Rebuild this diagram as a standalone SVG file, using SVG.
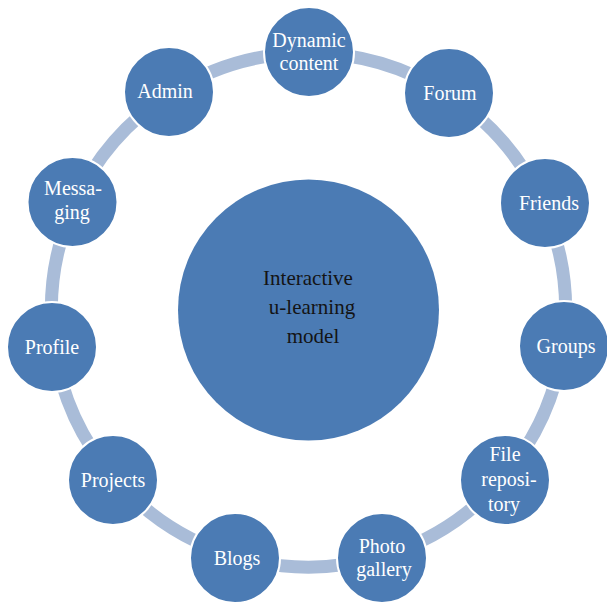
<svg xmlns="http://www.w3.org/2000/svg" width="607" height="602" viewBox="0 0 607 602">
<style>
.ring{fill:none;stroke:#A9BCD8;stroke-width:13}
.node{fill:#4B7BB4;stroke:#ffffff;stroke-width:2}
.lbl{font-family:"Liberation Serif","Times New Roman",serif;font-size:20px;fill:#ffffff;text-anchor:middle}
.clbl{font-family:"Liberation Serif","Times New Roman",serif;font-size:21px;fill:#141414;text-anchor:middle}
</style>
<rect width="607" height="602" fill="#ffffff"/>
<g id="connectors">
<path class="ring" d="M308.5 53 A257 257 0 0 1 447.4 93.8"/>
<path class="ring" d="M447.4 93.8 A257 257 0 0 1 542.3 203.2"/>
<path class="ring" d="M542.3 203.2 A257 257 0 0 1 562.9 346.6"/>
<path class="ring" d="M562.9 346.6 A257 257 0 0 1 502.7 478.3"/>
<path class="ring" d="M502.7 478.3 A257 257 0 0 1 380.9 556.6"/>
<path class="ring" d="M380.9 556.6 A257 257 0 0 1 236.1 556.6"/>
<path class="ring" d="M236.1 556.6 A257 257 0 0 1 114.3 478.3"/>
<path class="ring" d="M114.3 478.3 A257 257 0 0 1 54.1 346.6"/>
<path class="ring" d="M54.1 346.6 A257 257 0 0 1 74.7 203.2"/>
<path class="ring" d="M74.7 203.2 A257 257 0 0 1 169.6 93.8"/>
<path class="ring" d="M169.6 93.8 A257 257 0 0 1 308.5 53"/>
</g>
<g id="center">
<circle cx="308.5" cy="310" r="130.5" fill="#4B7BB4"/>
<text class="clbl" x="308" y="285">Interactive</text>
<text class="clbl" x="312" y="314">u-learning</text>
<text class="clbl" x="313" y="343">model</text>
</g>
<g id="dynamic-content">
<circle class="node" cx="309" cy="52" r="45"/>
<text class="lbl" x="309" y="47">Dynamic</text>
<text class="lbl" x="309" y="70">content</text>
</g>
<g id="forum">
<circle class="node" cx="449" cy="93" r="45"/>
<text class="lbl" x="450" y="100">Forum</text>
</g>
<g id="friends">
<circle class="node" cx="545" cy="203" r="45"/>
<text class="lbl" x="549" y="210">Friends</text>
</g>
<g id="groups">
<circle class="node" cx="564" cy="346" r="45"/>
<text class="lbl" x="566" y="353">Groups</text>
</g>
<g id="file-repository">
<circle class="node" cx="505" cy="480" r="45"/>
<text class="lbl" x="505" y="461">File</text>
<text class="lbl" x="509" y="486">reposi-</text>
<text class="lbl" x="504" y="511">tory</text>
</g>
<g id="photo-gallery">
<circle class="node" cx="382" cy="558" r="45"/>
<text class="lbl" x="382" y="553">Photo</text>
<text class="lbl" x="384" y="576">gallery</text>
</g>
<g id="blogs">
<circle class="node" cx="235" cy="558" r="45"/>
<text class="lbl" x="237" y="565">Blogs</text>
</g>
<g id="projects">
<circle class="node" cx="113" cy="480" r="45"/>
<text class="lbl" x="113" y="487">Projects</text>
</g>
<g id="profile">
<circle class="node" cx="52" cy="347" r="45"/>
<text class="lbl" x="52" y="354">Profile</text>
</g>
<g id="messaging">
<circle class="node" cx="72.5" cy="202" r="45"/>
<text class="lbl" x="73" y="195">Messa-</text>
<text class="lbl" x="72" y="219">ging</text>
</g>
<g id="admin">
<circle class="node" cx="169" cy="92" r="45"/>
<text class="lbl" x="165" y="98">Admin</text>
</g>
</svg>
